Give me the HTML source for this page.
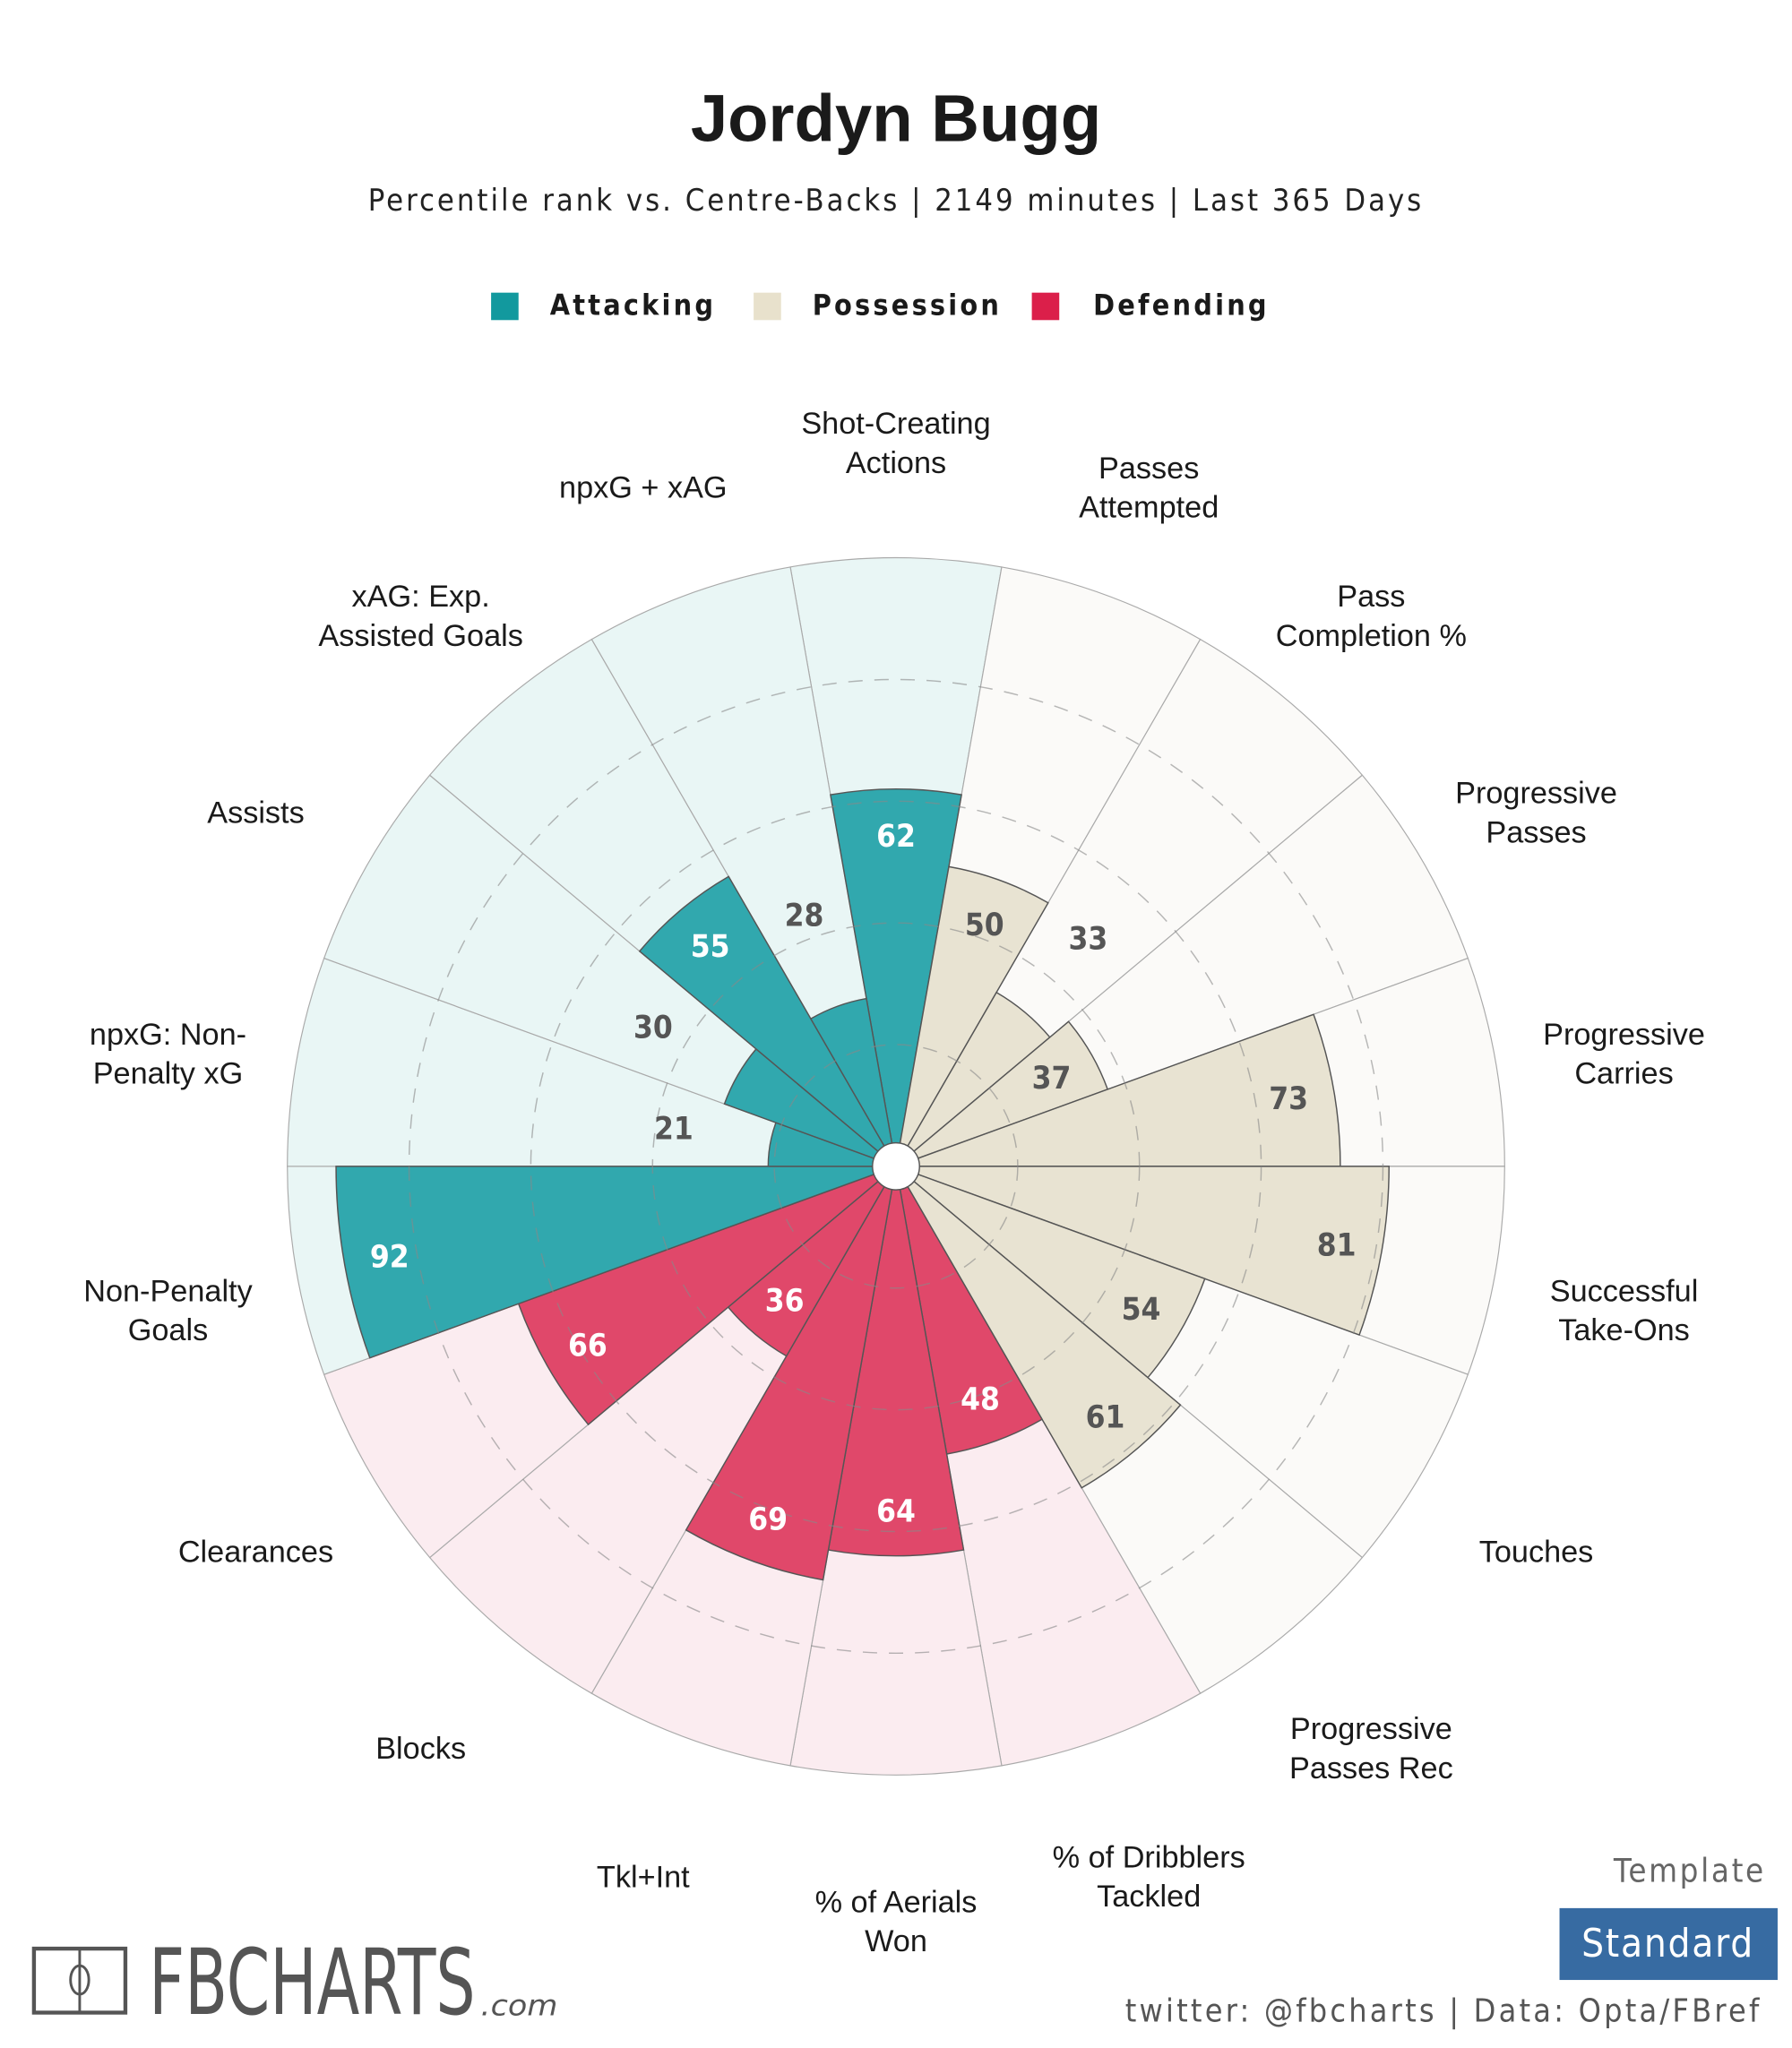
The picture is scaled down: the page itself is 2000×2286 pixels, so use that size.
<!DOCTYPE html>
<html><head><meta charset="utf-8"><style>
html,body{margin:0;padding:0;background:#fff;}
svg{display:block;}
</style></head><body>
<svg id="chart" width="2000" height="2286" viewBox="0 0 1372 1568" xmlns="http://www.w3.org/2000/svg">
<rect width="1372" height="1568" fill="#fff"/>
<text x="686" y="108" text-anchor="middle" font-family="Liberation Sans, sans-serif" font-weight="bold" font-size="51" fill="#1a1a1a">Jordyn Bugg</text>
<text x="686" y="161" text-anchor="middle" font-family="DejaVu Sans Condensed, DejaVu Sans, sans-serif" font-size="23.5" letter-spacing="2.05" fill="#222">Percentile rank vs. Centre-Backs | 2149 minutes | Last 365 Days</text>
<g font-family="DejaVu Sans Condensed, DejaVu Sans, sans-serif" font-weight="bold" font-size="22" letter-spacing="2.2" fill="#1a1a1a">
  <rect x="376" y="224" width="21" height="21" fill="#12999e"/>
  <text x="421" y="241">Attacking</text>
  <rect x="577" y="224" width="21" height="21" fill="#e8e1cc"/>
  <text x="622" y="241">Possession</text>
  <rect x="790" y="224" width="21" height="21" fill="#db1f4a"/>
  <text x="837" y="241">Defending</text>
</g>
<g id="plot"></g>
<g>
  <rect x="26" y="1492" width="70" height="49" fill="none" stroke="#555" stroke-width="3"/>
  <line x1="61" y1="1492" x2="61" y2="1541" stroke="#555" stroke-width="2"/>
  <ellipse cx="61" cy="1516" rx="7" ry="11" fill="none" stroke="#555" stroke-width="2"/>
  <text x="114" y="1542" font-family="DejaVu Sans Condensed, DejaVu Sans, sans-serif" font-size="70" fill="#555" textLength="250" lengthAdjust="spacingAndGlyphs">FBCHARTS</text>
  <text x="368" y="1543" font-family="DejaVu Sans, sans-serif" font-style="italic" font-size="22" fill="#555" textLength="59" lengthAdjust="spacingAndGlyphs">.com</text>
</g>
<text x="1352" y="1441" text-anchor="end" font-family="DejaVu Sans Condensed, DejaVu Sans, sans-serif" font-size="25" letter-spacing="1.8" fill="#666">Template</text>
<rect x="1194" y="1461" width="167" height="55" fill="#376ba2"/>
<text x="1277" y="1498" text-anchor="middle" font-family="DejaVu Sans Condensed, DejaVu Sans, sans-serif" font-size="30" letter-spacing="1.2" fill="#fff">Standard</text>
<text x="1349" y="1548" text-anchor="end" font-family="DejaVu Sans Condensed, DejaVu Sans, sans-serif" font-size="24.5" letter-spacing="2.2" fill="#555">twitter: @fbcharts | Data: Opta/FBref</text>
</svg>
<script>
const categories = ["Shot-Creating|Actions","Passes|Attempted","Pass|Completion %","Progressive|Passes","Progressive|Carries","Successful|Take-Ons","Touches","Progressive|Passes Rec","% of Dribblers|Tackled","% of Aerials|Won","Tkl+Int","Blocks","Clearances","Non-Penalty|Goals","npxG: Non-|Penalty xG","Assists","xAG: Exp.|Assisted Goals","npxG + xAG"];
const values = [62,50,33,37,73,81,54,61,48,64,69,36,66,92,21,30,55,28];
const groups = ["att","pos","pos","pos","pos","pos","pos","pos","def","def","def","def","def","att","att","att","att","att"];
const ringTicks = [20,40,60,80];

const NS = "http://www.w3.org/2000/svg";
const CX = 686, CY = 893, R = 466;
const barColor = {att:"#31a8ae", pos:"#e8e3d2", def:"#e0486a"};
const bgColor = {att:"#e9f6f5", pos:"#fbfaf8", def:"#fbecf0"};
const txtColor = {att:"#fff", pos:"#555", def:"#fff"};
const plot = document.getElementById("plot");
const n = categories.length, step = 360 / n;
function rScale(v){ return v / 100 * R; }
function angleOf(i){ return 90 - step * i; }
function pt(r, deg){ const a = deg * Math.PI / 180; return [CX + r * Math.cos(a), CY - r * Math.sin(a)]; }
function wedge(r, a0, a1){
  const p0 = pt(r, a0), p1 = pt(r, a1);
  return `M${CX},${CY} L${p0[0]},${p0[1]} A${r},${r} 0 0 1 ${p1[0]},${p1[1]} Z`;
}
function mk(tag, attrs){ const e = document.createElementNS(NS, tag); for (const k in attrs) e.setAttribute(k, attrs[k]); return e; }

for (let i = 0; i < n; i++) {
  const a = angleOf(i);
  const p = mk("path", {d: wedge(R, a + step/2, a - step/2), fill: bgColor[groups[i]], stroke: "#aaa", "stroke-width": "0.8"});
  
  
  plot.appendChild(p);
}
for (let i = 0; i < n; i++) {
  const a = angleOf(i);
  const p = mk("path", {d: wedge(rScale(values[i]), a + step/2, a - step/2), fill: barColor[groups[i]], stroke: "#555", "stroke-width": "1"});
  
  
  plot.appendChild(p);
}
for (const t of ringTicks) {
  const c = mk("circle", {cx: CX, cy: CY, r: rScale(t), fill: "none", stroke: "#888", "stroke-opacity": "0.6", "stroke-width": "1", "stroke-dasharray": "11 9"});
  
  
  plot.appendChild(c);
}
const hole = mk("circle", {cx: CX, cy: CY, r: 18, fill: "#fff", stroke: "#555", "stroke-width": "1"});


plot.appendChild(hole);
for (let i = 0; i < n; i++) {
  const v = values[i], rb = rScale(v);
  const inside = v >= 35;
  const rl = inside ? rb - 35 : rb + 75;
  const p = pt(rl, angleOf(i));
  const t = mk("text", {x: p[0], y: p[1] + 9, "text-anchor": "middle", "font-family": "DejaVu Sans Condensed, DejaVu Sans, sans-serif", "font-weight": "bold", "font-size": "24", fill: inside ? txtColor[groups[i]] : "#555"});
  t.textContent = v;
  
  
  plot.appendChild(t);
}
for (let i = 0; i < n; i++) {
  const p = pt(566, angleOf(i));
  const lines = categories[i].split("|");
  const t = mk("text", {"text-anchor": "middle", "font-family": "Liberation Sans, sans-serif", "font-size": "23.5", fill: "#1a1a1a"});
  const cy = p[1] + 12, lh = 30;
  lines.forEach((ln, k) => {
    const ts = mk("tspan", {x: p[0], y: cy + (k - (lines.length - 1) / 2) * lh + 8});
    ts.textContent = ln;
    t.appendChild(ts);
  });
  
  
  plot.appendChild(t);
}
</script>
</body></html>
